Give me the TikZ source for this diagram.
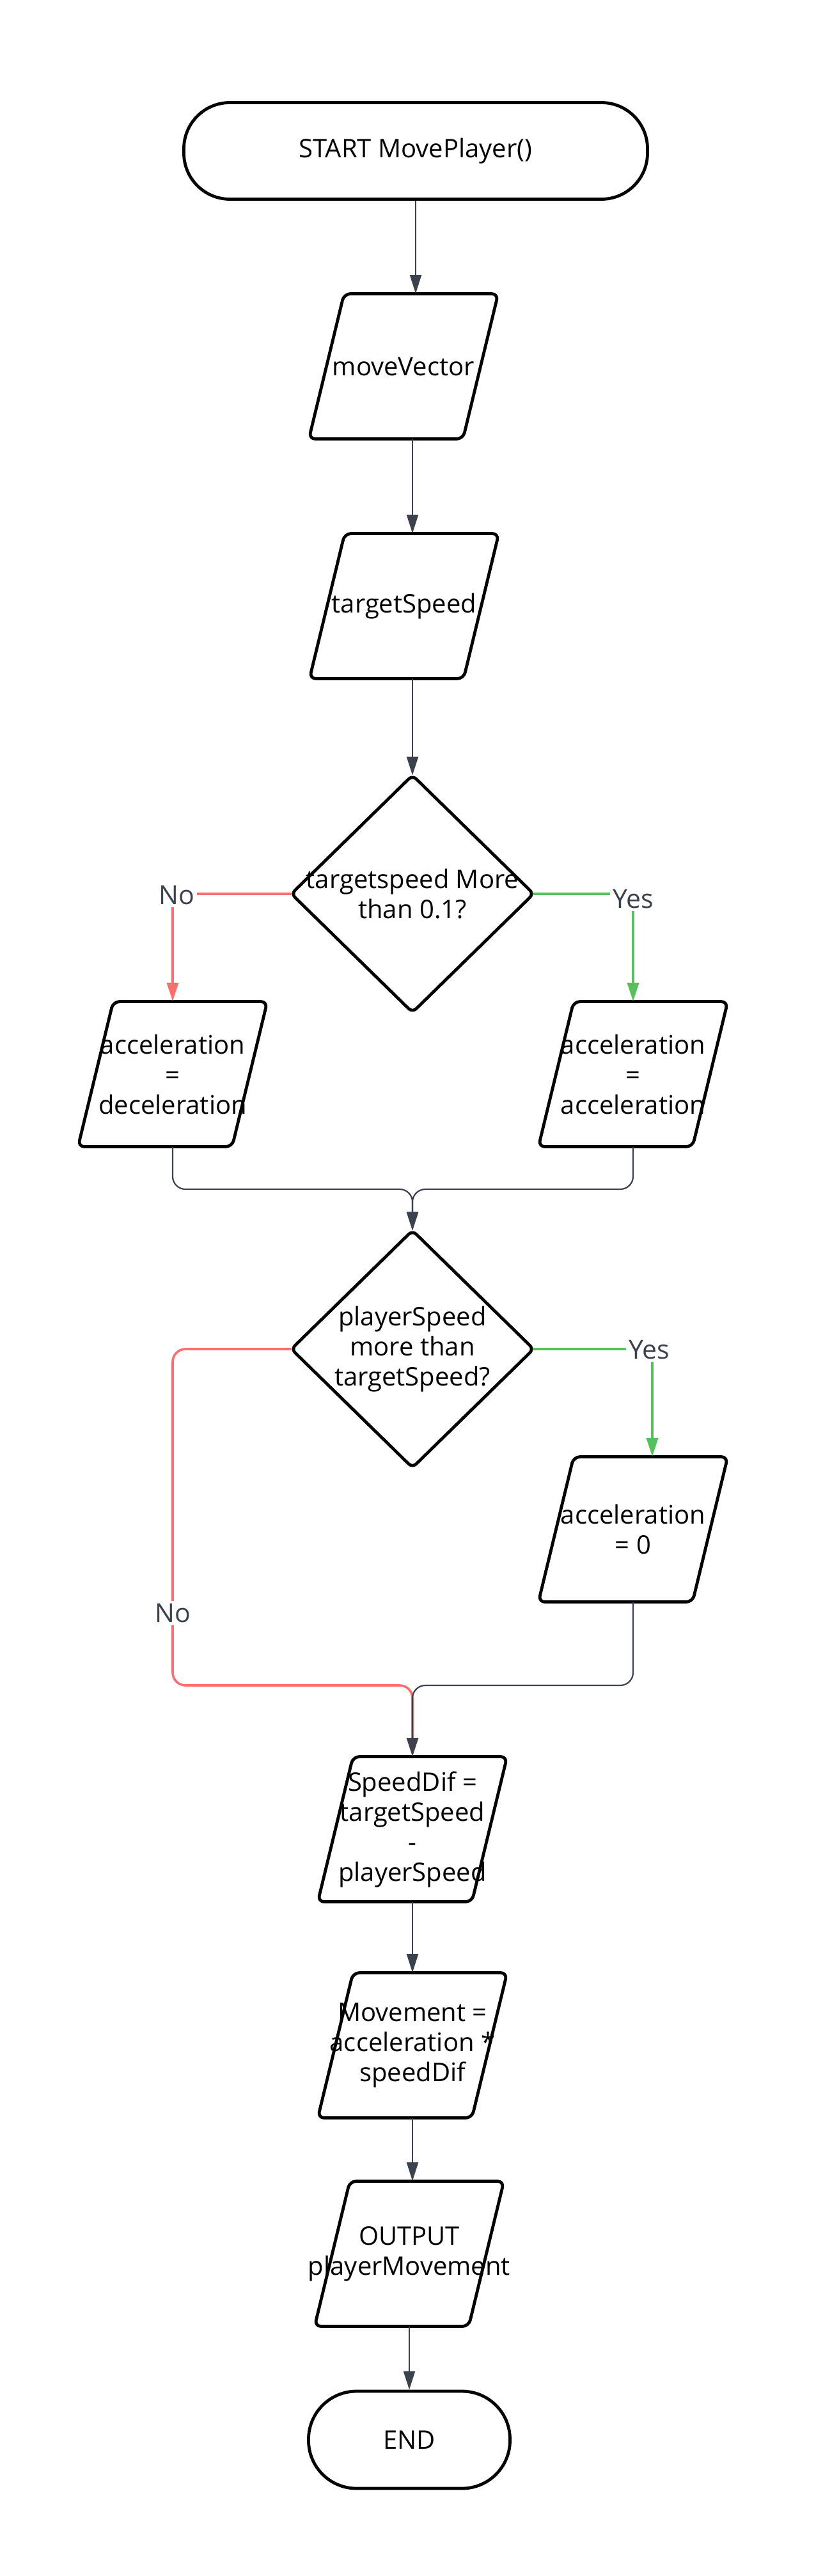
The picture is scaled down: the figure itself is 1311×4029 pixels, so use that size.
\documentclass[tikz,border=0pt]{standalone}
\usepackage{fontspec}
\setmainfont{Open Sans}
\usetikzlibrary{arrows.meta,calc}
\definecolor{conncol}{HTML}{3B414D}
\definecolor{nored}{HTML}{FF6E6E}
\definecolor{yesgreen}{HTML}{55C15E}
\newcommand\drawio[1]{\draw[shapeline, rounded corners=5pt] ($(#1.center)+(27.5,-113.5)$) -- ($(#1.center)+(148,-113.5)$) -- ($(#1.center)+(93,113.5)$) -- ($(#1.center)+(-148,113.5)$) -- ($(#1.center)+(-93,-113.5)$) -- cycle;}
\newcommand\drawdec[1]{\draw[shapeline, rounded corners=4pt] ($(#1.north)!0.5!(#1.east)$) -- (#1.east) -- (#1.south) -- (#1.west) -- (#1.north) -- cycle;}
\begin{document}
\begin{tikzpicture}[x=0.5pt,y=-0.5pt,
  txt/.style={font=\fontsize{20pt}{23.5pt}\selectfont, align=center, inner sep=0pt, text=black},
  term/.style={txt, draw=black, line width=2.4pt},
  iobox/.style={txt, minimum width=120.5pt, minimum height=113.5pt},
  decis/.style={txt, minimum width=189pt, minimum height=185pt},
  shapeline/.style={draw=black, line width=2.4pt, line join=round},
  tip/.style={-{Triangle[length=14.5pt,width=9pt]}},
  conn/.style={draw=conncol, line width=1.1pt, tip},
  redline/.style={draw=nored, line width=1.8pt, -{Triangle[length=14.5pt,width=9pt,fill=nored]}},
  greenline/.style={draw=yesgreen, line width=1.8pt, -{Triangle[length=14.5pt,width=9pt,fill=yesgreen]}},
  lbl/.style={font=\fontsize{20.5pt}{24pt}\selectfont, text=conncol, fill=white, inner sep=2pt}
]
\useasboundingbox (0,0) rectangle (1311,4029);

% nodes
\node[term, minimum width=362.5pt, minimum height=75.5pt, rounded corners=36pt] (start) at (650,236) {START MovePlayer()};
\node[iobox] (mv) at (631,573) {moveVector};
\node[iobox] (ts) at (632,948) {targetSpeed};
\node[decis] (d1) at (645,1398) {targetspeed More\\than 0.1?};
\node[iobox] (a1) at (270,1680) {acceleration\\=\\deceleration};
\node[iobox] (a2) at (990,1680) {acceleration\\=\\acceleration};
\node[decis] (d2) at (645,2110) {playerSpeed\\more than\\targetSpeed?};
\node[iobox] (a3) at (990,2392) {acceleration\\= 0};
\node[iobox] (sd) at (645,2861) {SpeedDif =\\targetSpeed\\-\\playerSpeed};
\node[iobox] (mo) at (645,3199) {Movement =\\acceleration *\\speedDif};
\node[iobox] (out) at (640,3525) {OUTPUT\\playerMovement};
\node[term, minimum width=157.5pt, minimum height=76pt, rounded corners=37.5pt] (end) at (640,3816) {END};

% outlines
\drawio{mv}
\drawio{ts}
\drawio{a1}
\drawio{a2}
\drawio{a3}
\drawio{sd}
\drawio{mo}
\drawio{out}
\drawdec{d1}
\drawdec{d2}

% helper coordinates
\coordinate (m1) at (645,1860);
\coordinate (m2) at (645,2636);
\coordinate (y2) at (1020,2110);
\coordinate (n2) at (274,2523);

% main connectors
\draw[conn] (start.south) -- (start.south |- mv.north);
\draw[conn] (mv.south -| d1.north) -- (d1.north |- ts.north);
\draw[conn] (ts.south -| d1.north) -- (d1.north);

% decision 1
\draw[redline] (d1.west) -- (a1.north |- d1.west) -- (a1.north);
\node[lbl] (no1) at ($(a1.north |- d1.west)+(6,2)$) {No};
\draw[greenline] (d1.east) -- (a2.north |- d1.east) -- (a2.north);
\node[lbl] (yes1) at ($(a2.north |- d1.east)+(0,8)$) {Yes};

% merge 1
\draw[conn, rounded corners=10pt] (a1.south) -- (a1.south |- m1) -- (m1) -- (d2.north);
\draw[conn, rounded corners=10pt] (a2.south) -- (a2.south |- m1) -- (m1) -- (d2.north);

% decision 2
\draw[greenline] (d2.east) -- (y2) -- (y2 |- a3.north);
\node[lbl] (yes2) at ($(y2)+(-5,1)$) {Yes};
\draw[redline, rounded corners=10pt] (d2.west) -- (a1.south |- d2.west) -- (a1.south |- m2) -- (m2) -- (sd.north);
\node[lbl] (no2) at (a1.south |- n2) {No};
\draw[conn, rounded corners=10pt] (a3.south) -- (a3.south |- m2) -- (m2) -- (sd.north);

% tail
\draw[conn] (sd.south) -- (mo.north);
\draw[conn] (mo.south) -- (mo.south |- out.north);
\draw[conn] (out.south) -- (end.north);
\end{tikzpicture}
\end{document}
